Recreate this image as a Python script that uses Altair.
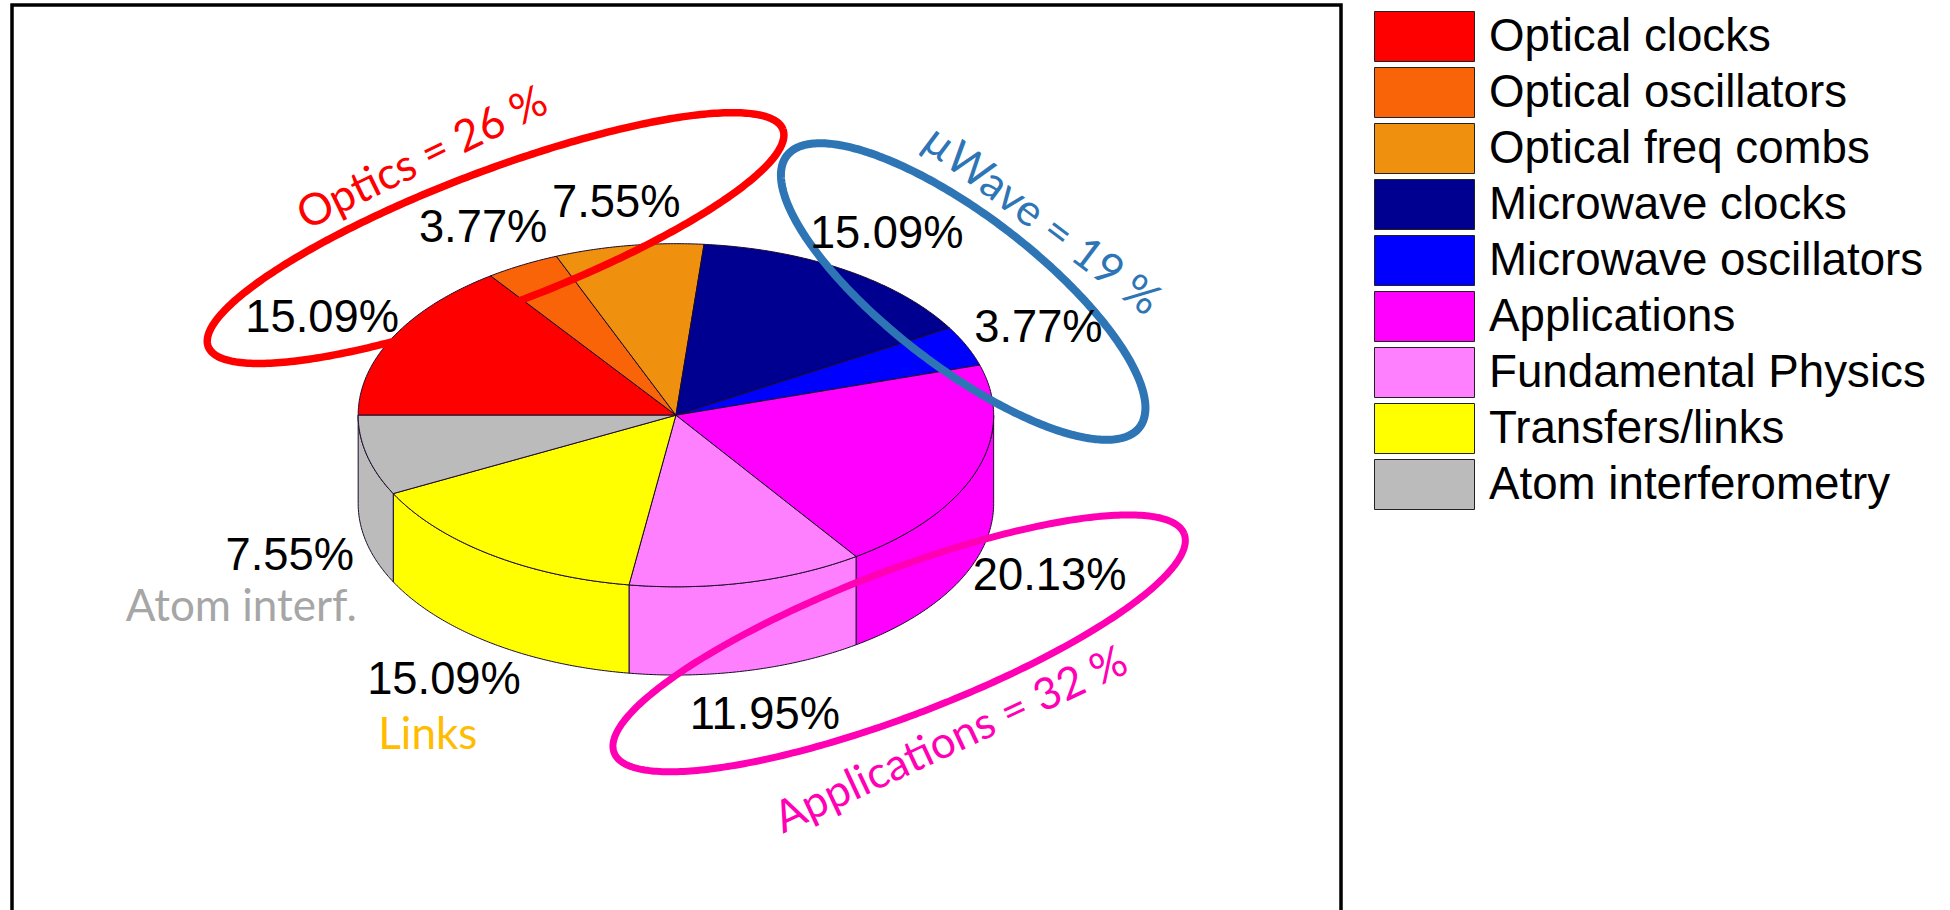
import numpy as np
import altair as alt

# Share of publications per research topic, in percent
topics = ["Optical clocks", "Optical oscillators", "Optical freq combs",
          "Microwave clocks", "Microwave oscillators", "Applications",
          "Fundamental Physics", "Transfers/links", "Atom interferometry"]
shares = [15.09, 3.77, 7.55, 15.09, 3.77, 20.13, 11.95, 15.09, 7.55]
colors = ["#FF0000", "#FA6408", "#F0900F", "#000090", "#0000FF",
          "#FF00FF", "#FF80FF", "#FFFF00", "#BBBBBB"]

W, H = 1950, 910
SX, SY = W / 1568, H / 732

# Tilted disc: centre, semi-axes and rim depth in canvas units
CX, CY = 543.5 * SX, 334 * SY
RX, RY = 255.5 * SX, 138 * SY
DEPTH = 71 * SY


def rim(theta, drop=0.0):
    return [float(CX + RX * np.cos(theta)), float(CY - RY * np.sin(theta) + drop)]


def arc(a, b, drop=0.0):
    n = max(2, int(abs(b - a) / np.radians(0.5)) + 1)
    return [rim(t, drop) for t in np.linspace(a, b, n)]


def feature(topic, kind, coords):
    return {"type": "Feature", "properties": {"topic": topic},
            "geometry": {"type": kind, "coordinates": coords}}


def ring(cx, cy, a, b, deg):
    phi = np.radians(deg)
    pts = []
    for t in np.linspace(0, 2 * np.pi, 361):
        u, v = a * np.cos(t), b * np.sin(t)
        pts.append([float((cx + u * np.cos(phi) - v * np.sin(phi)) * SX),
                    float((cy + u * np.sin(phi) + v * np.cos(phi)) * SY)])
    return pts


# Walk clockwise from the left of the disc, one slice per share
total = sum(shares)
edges = np.pi - np.cumsum([0] + shares) / total * 2 * np.pi
tops, sides = [], []
for name, start, end in zip(topics, edges[:-1], edges[1:]):
    tops.append(feature(name, "Polygon",
                        [[[float(CX), float(CY)]] + arc(start, end) + [[float(CX), float(CY)]]]))
    a, b = min(start, 0.0), max(end, -np.pi)
    if a > b:
        upper = arc(a, b)
        lower = arc(b, a, DEPTH)
        sides.append(feature(name, "Polygon", [upper + lower + [upper[0]]]))

identity = dict(type="identity", scale=1, translate=[0, 0])
fill_scale = alt.Scale(domain=topics, range=colors)
legend = alt.Legend(orient="none", legendX=1399, legendY=11, title=None,
                    symbolType="M-2,-1H2V1H-2Z", symbolSize=2500,
                    symbolStrokeColor="#222222", symbolStrokeWidth=1,
                    labelFont="Liberation Sans", labelFontSize=45.7, labelColor="#000000",
                    labelOffset=39, labelLimit=900, rowPadding=1, padding=0)


def faces(features):
    enc = alt.Fill("properties.topic:N", scale=fill_scale, legend=legend)
    return (alt.Chart(alt.Data(values=features))
            .mark_geoshape(stroke="#1a0a2a", strokeWidth=1)
            .encode(fill=enc)
            .project(**identity))


def outline(points, color, width):
    return (alt.Chart(alt.Data(values=[feature("", "LineString", points)]))
            .mark_geoshape(filled=False, stroke=color, strokeWidth=width)
            .project(**identity))


def label(text, x, y, size=45.3, font="Liberation Sans", color="#000000", angle=0):
    return (alt.Chart(alt.Data(values=[{"t": text}]))
            .mark_text(font=font, fontSize=size, color=color, angle=angle,
                       align="center", baseline="middle")
            .encode(text="t:N", x=alt.value(x * SX), y=alt.value(y * SY)))


def pct(i):
    return f"{shares[i]:.2f}%"


frame = outline([[12, H + 10], [12, 5], [1341, 5], [1341, H + 10]], "#000000", 3.5)

layers = [
    frame,
    faces(sides),
    faces(tops),
    outline(ring(398.5, 191.5, 247, 54, -20.7), "#FF0000", 7.5),
    outline(ring(774.5, 234.5, 179, 60.5, 37.6), "#2E75B6", 8),
    outline(ring(723, 517.5, 245.5, 58, -21), "#FF00B4", 7),
    label(pct(0), 259, 256),
    label(pct(1), 388.5, 183),
    label(pct(2), 495.5, 163),
    label(pct(3), 713, 188),
    label(pct(4), 835, 264),
    label(pct(5), 844, 463),
    label(pct(6), 615, 575),
    label(pct(7), 357, 547),
    label(pct(8), 233, 447),
    label("Atom interf.", 194, 489, 44, "Lato", "#A6A6A6"),
    label("Links", 344, 592, 44, "Lato", "#FFBC00"),
    label("Optics = 26 %", 340, 128, 44, "Lato", "#FF0000", 334),
    label("µWave = 19 %", 837, 178, 44, "Lato", "#2E75B6", 37),
    label("Applications = 32 %", 765, 596, 44, "Lato", "#FF00B4", 335),
]

chart = (alt.layer(*layers)
         .properties(width=W, height=H, padding=0, autosize=alt.AutoSizeParams(type="none"),
                     background="#FFFFFF")
         .configure_view(stroke=None))

chart.save("out.html", embed_options={"renderer": "svg", "actions": False})
